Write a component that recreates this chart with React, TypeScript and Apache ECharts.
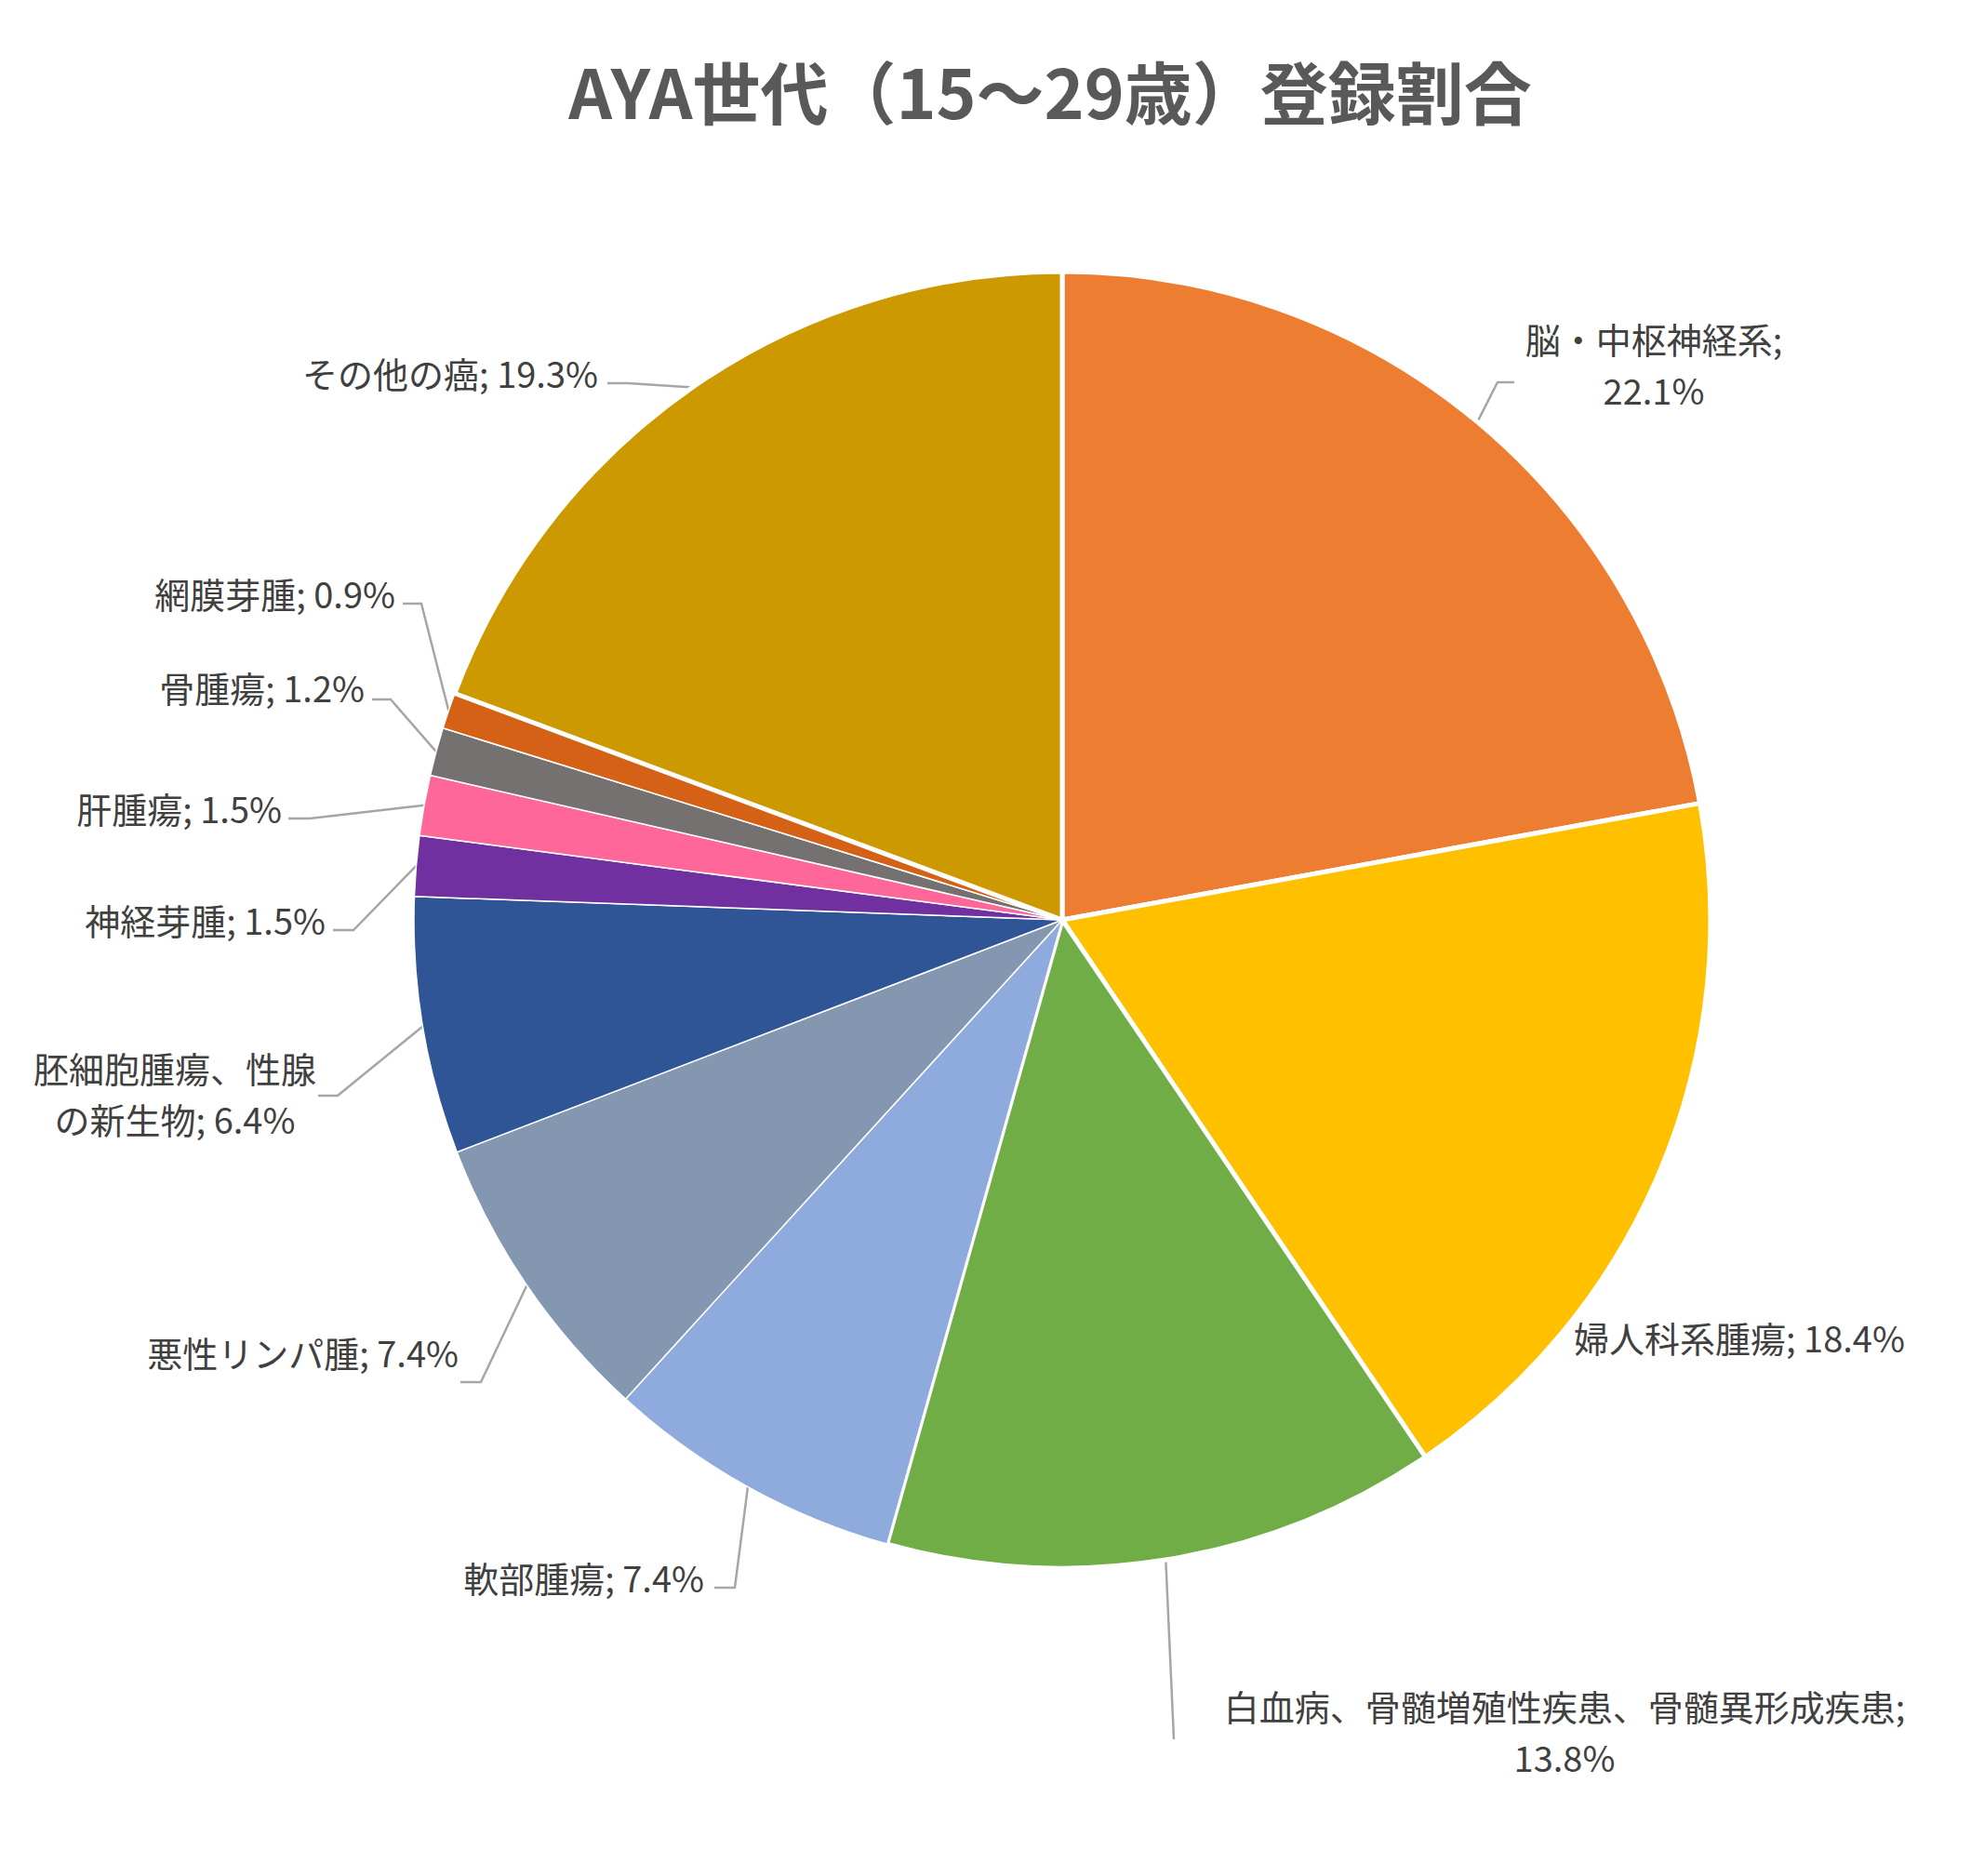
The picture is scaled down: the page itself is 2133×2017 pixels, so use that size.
import { useEffect, useRef } from "react";
import * as echarts from "echarts";

const titleText = "AYA世代（15～29歳）登録割合";

const categories = [
  "脳・中枢神経系",
  "婦人科系腫瘍",
  "白血病、骨髄増殖性疾患、骨髄異形成疾患",
  "軟部腫瘍",
  "悪性リンパ腫",
  "胚細胞腫瘍、性腺の新生物",
  "神経芽腫",
  "肝腫瘍",
  "骨腫瘍",
  "網膜芽腫",
  "その他の癌",
];

const shares = [22.1, 18.4, 13.8, 7.4, 7.4, 6.4, 1.5, 1.5, 1.2, 0.9, 19.3];

const sliceColors = [
  "#ED7D31",
  "#FFC000",
  "#70AD47",
  "#8FAADC",
  "#8497B0",
  "#2F5597",
  "#7030A0",
  "#FF6699",
  "#767171",
  "#D46115",
  "#CC9900",
];

// Layout of the labels (anchor, alignment, leader-line bend/end), not data.
type Placement = {
  x: number;
  y: number;
  align: "left" | "right" | "center";
  bend?: [number, number];
  end?: [number, number];
  wrap?: "sep" | number;
  thick?: boolean;
};

const placements: Placement[] = [
  { x: 1778, y: 391, align: "center", bend: [1610, 411], end: [1628, 411], wrap: "sep", thick: true },
  { x: 1692, y: 1437, align: "left", thick: true },
  { x: 1682, y: 1861, align: "center", bend: [1262, 1870], end: [1262, 1870], wrap: "sep", thick: true },
  { x: 757, y: 1695, align: "right", bend: [790, 1707], end: [768, 1707] },
  { x: 493, y: 1453, align: "right", bend: [517, 1486], end: [495, 1486] },
  { x: 188, y: 1175, align: "center", bend: [363, 1178], end: [342, 1178], wrap: 8 },
  { x: 350, y: 988, align: "right", bend: [380, 1000], end: [358, 1000] },
  { x: 303, y: 868, align: "right", bend: [333, 880], end: [310, 880] },
  { x: 392, y: 738, align: "right", bend: [420, 752], end: [400, 752] },
  { x: 425, y: 637, align: "right", bend: [453, 649], end: [433, 649] },
  { x: 643, y: 400, align: "right", bend: [675, 412], end: [653, 412], thick: true },
];

const FONT = "'Noto Sans CJK JP', 'Noto Sans', sans-serif";

function labelText(i: number): string {
  const name = categories[i];
  const val = `${shares[i].toFixed(1)}%`;
  const w = placements[i].wrap;
  if (w === "sep") return `${name};\n${val}`;
  if (typeof w === "number") return `${name.slice(0, w)}\n${name.slice(w)}; ${val}`;
  return `${name}; ${val}`;
}

export default function App() {
  const ref = useRef<HTMLDivElement>(null);

  useEffect(() => {
    if (!ref.current) return;
    const chart = echarts.init(ref.current, undefined, { renderer: "svg" });

    const data = categories.map((name, i) => ({
      name,
      value: shares[i],
      itemStyle: {
        color: sliceColors[i],
        borderColor: "#FFFFFF",
        borderWidth: placements[i].thick ? 5 : 1.5,
      },
      labelLine: { show: !!placements[i].bend },
    }));

    chart.setOption({
      animation: false,
      backgroundColor: "#FFFFFF",
      graphic: [
        {
          type: "text",
          x: 1129,
          y: 96,
          style: {
            text: titleText,
            fill: "#595959",
            font: `bold 73px ${FONT}`,
            textAlign: "center",
            textVerticalAlign: "middle",
          },
        },
      ],
      series: [
        {
          type: "pie",
          center: [1142, 989],
          radius: [0, 697],
          startAngle: 90,
          clockwise: true,
          avoidLabelOverlap: false,
          data,
          label: {
            show: true,
            position: "outside",
            formatter: (p: any) => labelText(p.dataIndex),
            color: "#404040",
            fontSize: 38,
            lineHeight: 55,
            fontFamily: FONT,
          },
          labelLine: {
            show: true,
            length: 20,
            length2: 20,
            lineStyle: { color: "#A6A6A6", width: 2.5 },
          },
          labelLayout: (params: any) => {
            const pl = placements[params.dataIndex];
            const out: any = {
              x: pl.x,
              y: pl.y,
              align: pl.align,
              verticalAlign: "middle",
            };
            const pts = params.labelLinePoints;
            if (pl.bend && pl.end && pts && pts.length) {
              out.labelLinePoints = [pts[0], pl.bend, pl.end];
            }
            return out;
          },
          emphasis: { disabled: true },
        },
      ],
    });

    return () => chart.dispose();
  }, []);

  return (
    <div
      ref={ref}
      style={{ position: "absolute", left: 0, top: 0, width: 2133, height: 2017 }}
    />
  );
}
